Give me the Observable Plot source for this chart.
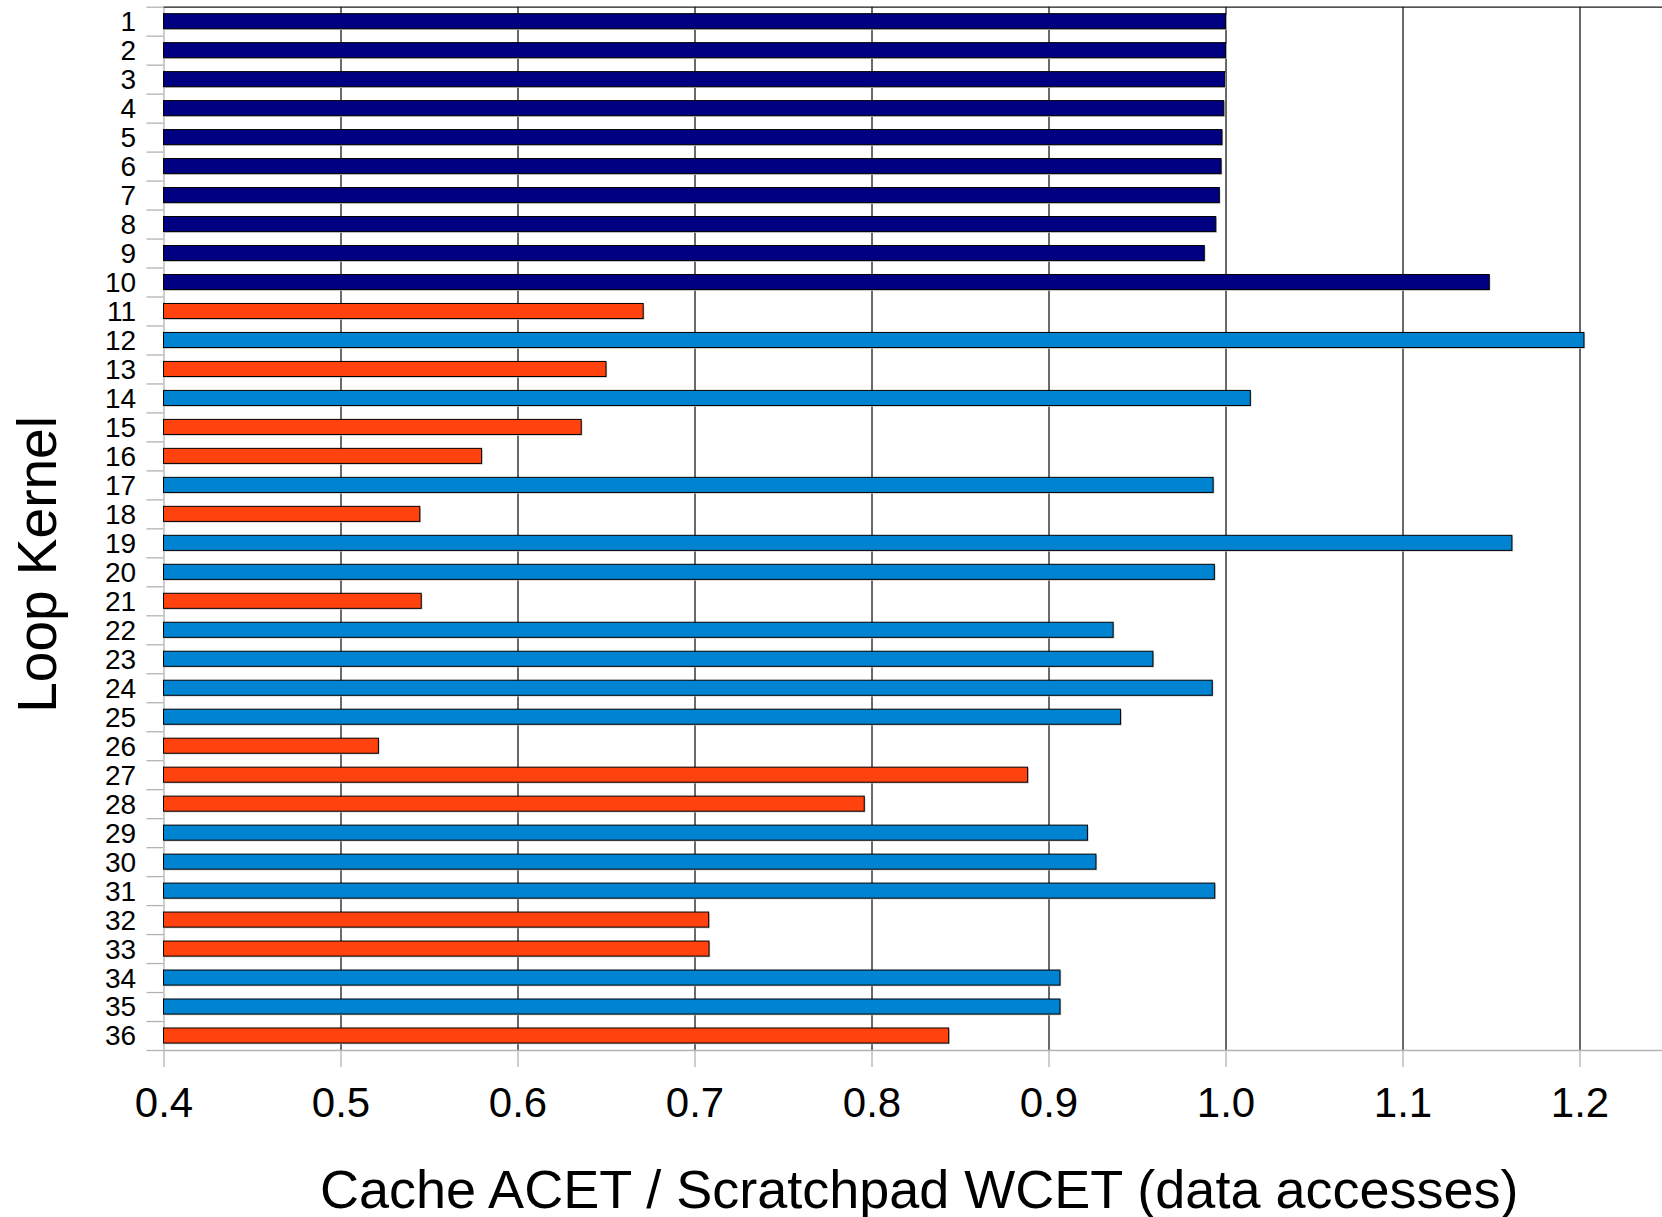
<!DOCTYPE html>
<html>
<head>
<meta charset="utf-8">
<script src="https://cdn.jsdelivr.net/npm/d3@7"></script>
<script src="https://cdn.jsdelivr.net/npm/@observablehq/plot@0.6"></script>
<style>
  html, body { margin: 0; padding: 0; background: #fff; }
  #chart svg { display: block; }
</style>
</head>
<body>
<div id="chart"></div>
<script>
// ---- data ----
const kernels = d3.range(1, 37);
const ratios = [
  1.000, 1.000, 0.9996, 0.999, 0.998, 0.9975, 0.9965, 0.9945, 0.988, 1.149,
  0.671, 1.2025, 0.650, 1.014, 0.636, 0.5797, 0.993, 0.5448, 1.1618, 0.9937,
  0.5456, 0.9365, 0.959, 0.9925, 0.9407, 0.5214, 0.8882, 0.7959, 0.922, 0.9268,
  0.9939, 0.708, 0.7082, 0.9065, 0.9065, 0.8436
];
const groups = [
  "A","A","A","A","A","A","A","A","A","A",
  "O","B","O","B","O","O","B","O","B","B",
  "O","B","B","B","B","O","O","O","B","B",
  "B","O","O","B","B","O"
];
const groupNames = ["A", "B", "O"];
const groupColors = ["#000080", "#0084d1", "#ff420e"];
const xTicks = [0.4, 0.5, 0.6, 0.7, 0.8, 0.9, 1.0, 1.1, 1.2];
const gridTicks = [0.5, 0.6, 0.7, 0.8, 0.9, 1.0, 1.1, 1.2];
const xDomain = [0.4, 1.2466];
const xLabel = "Cache ACET / Scratchpad WCET (data accesses)";
const yLabel = "Loop Kernel";

const rows = kernels.map((k, i) => ({kernel: k, ratio: ratios[i], group: groups[i]}));

// ---- layout ----
const W = 1662, H = 1217;
const mL = 163.5, mR = 0, mT = 6.7, mB = 167;
const step = (H - mT - mB) / kernels.length;
const font = "Liberation Sans, Arial, sans-serif";

const chart = Plot.plot({
  width: W,
  height: H,
  marginLeft: mL,
  marginRight: mR,
  marginTop: mT,
  marginBottom: mB,
  style: {fontFamily: font, color: "black", background: "white"},
  x: {domain: xDomain, axis: null},
  y: {type: "band", domain: kernels, paddingInner: 0.48, paddingOuter: 0.24, axis: null},
  color: {domain: groupNames, range: groupColors},
  marks: [
    // vertical gridlines
    Plot.ruleX(gridTicks, {stroke: "#1a1a1a", strokeWidth: 1.3}),
    // left axis line
    Plot.ruleX([xDomain[0]], {stroke: "#b3b3b3", strokeWidth: 1.3}),
    // bar shadow
    Plot.barX(rows, {x1: xDomain[0], x2: "ratio", y: "kernel", fill: "#c4c4c4", dx: 1.2, dy: 1.2}),
    // bars
    Plot.barX(rows, {x1: xDomain[0], x2: "ratio", y: "kernel", fill: "group", stroke: "black", strokeWidth: 1}),
    // top frame line
    Plot.ruleY([kernels[0]], {dy: -step / 2, stroke: "#1a1a1a", strokeWidth: 1.3}),
    // bottom axis line
    Plot.ruleY([kernels[kernels.length - 1]], {dy: step / 2, stroke: "#b3b3b3", strokeWidth: 1.5}),
    // y boundary ticks
    Plot.axisY({tickSize: 17, tickFormat: () => "", dy: -step / 2, stroke: "#b3b3b3", strokeWidth: 1.3, label: null}),
    Plot.axisY({ticks: [kernels[kernels.length - 1]], tickSize: 17, tickFormat: () => "", dy: step / 2, stroke: "#b3b3b3", strokeWidth: 1.3, label: null}),
    // y tick labels
    Plot.axisY({tickSize: 0, tickPadding: 27.8, fontSize: 28, dy: 0.5, fill: "black", label: null}),
    // x ticks + labels
    Plot.axisX({ticks: xTicks, tickFormat: d3.format(".1f"), tickSize: 17, tickPadding: 20, fontSize: 42, stroke: "#b3b3b3", strokeWidth: 1.3, fill: "black", label: null}),
    // axis titles
    Plot.text([xLabel], {text: d => d, frameAnchor: "bottom", lineAnchor: "bottom", textAnchor: "middle", dy: 157, dx: 6, fontSize: 54, fill: "black"}),
    Plot.text([yLabel], {text: d => d, frameAnchor: "left", lineAnchor: "bottom", textAnchor: "middle", rotate: -90, dx: -108.5, dy: 35.6, fontSize: 55, fill: "black"})
  ]
});

document.getElementById("chart").appendChild(chart);
</script>
</body>
</html>
